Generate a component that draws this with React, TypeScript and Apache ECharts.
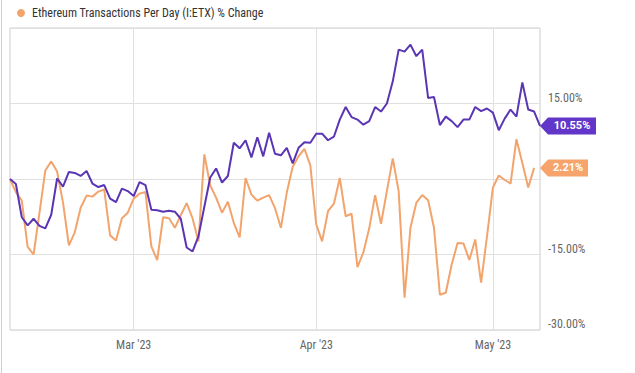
import React, { useEffect, useRef } from "react";
import * as echarts from "echarts";

const startDate = [2023, 1, 8]; // Feb 8, 2023 (month is 0-based)
const dayCount = 91;

const monthLabels: Record<string, string> = {
  "2023-03-01": "Mar '23",
  "2023-04-01": "Apr '23",
  "2023-05-01": "May '23",
};

const yTickValues = [-30, -15, 0, 15, 30];
const hiddenYTicks = [0, 30];

const priceName = "Ethereum Price % Change";
const txName = "Ethereum Transactions Per Day (I:ETX) % Change";

const priceValues = [
  0, -1.0, -7.6, -9.2, -7.9, -9.3, -9.8, -7.1, 0.1, -1.5,
  1.4, 1.2, 0.6, 1.6, -0.9, -1.6, -1.2, -3.9, -4.6, -1.9,
  -2.4, -3.4, -0.6, -1.2, -6.1, -6.2, -6.5, -6.3, -6.5, -7.9,
  -13.6, -14.4, -11.4, -5.5, 0.3, 2.1, -0.7, 0.6, 7.2, 6.1,
  7.7, 4.3, 8.3, 4.5, 9.2, 5.0, 4.7, 6.2, 3.1, 6.2,
  7.3, 7.2, 9.0, 9.0, 7.7, 8.4, 11.8, 14.3, 12.3, 11.8,
  10.8, 11.5, 14.3, 13.4, 15.0, 19.4, 25.7, 25.3, 26.7, 24.4,
  25.7, 16.1, 16.3, 10.7, 12.4, 11.5, 10.3, 11.8, 11.8, 14.3,
  13.5, 14.0, 13.2, 9.7, 12.0, 13.8, 12.4, 19.2, 13.8, 13.4,
  10.55,
];

const txValues: (number | null)[] = [
  0, -2.6, -4.3, -13.5, -15.0, -6.8, 1.7, 3.5, 1.5, -4.7,
  -13.2, -10.6, -5.7, -3.3, -3.5, -2.5, -2.1, -11.2, -12.2, -7.8,
  -6.7, -3.9, -2.9, -2.6, -13.4, -16.1, -7.6, -7.8, -9.7, -7.2,
  -4.8, -7.8, -12.4, 4.9, -1.3, -3.7, -6.7, -4.5, -8.7, -11.6,
  0.2, -3.1, -4.3, -3.7, -3.2, -5.8, -9.7, -2.7, 2.4, 4.5,
  6.0, 2.7, -9.0, -12.4, -6.4, -4.9, 0.2, -7.4, -6.9, -17.5,
  -14.6, -9.8, -3.2, -8.9, -2.4, 4.1, -2.4, -23.6, -9.7, -4.7,
  -3.2, -4.2, -9.7, -23.0, -22.6, -17.0, -12.7, -12.8, -16.1, -12.0,
  -20.6, -11.4, -1.7, 0.7, -0.2, -0.9, 7.9, 3.2, -1.7, 2.21,
  null,
];

const purple = "#5a36b4";
const purpleTag = "#6236c9";
const orange = "#f2a46c";
const orangeTag = "#f6a46c";

function buildDates(): string[] {
  const out: string[] = [];
  const base = Date.UTC(startDate[0], startDate[1], startDate[2]);
  for (let i = 0; i < dayCount; i++) {
    out.push(new Date(base + i * 86400000).toISOString().slice(0, 10));
  }
  return out;
}

const fontFamily = "'Liberation Sans Narrow', 'Roboto Condensed', Roboto, sans-serif";

export default function App() {
  const ref = useRef<HTMLDivElement>(null);

  useEffect(() => {
    if (!ref.current) return;
    const chart = echarts.init(ref.current, undefined, { renderer: "svg" });
    const dates = buildDates();
    const lastDate = dates[dates.length - 1];
    const lastPrice = priceValues[priceValues.length - 1];
    let lastTx = 0;
    for (let i = txValues.length - 1; i >= 0; i--) {
      if (txValues[i] != null) {
        lastTx = txValues[i] as number;
        break;
      }
    }
    const isMonth = (_i: number, v: string) => v in monthLabels;

    const tag = (w: number, color: string, value: number) => ({
      symbol: `path://M0,8.5L8,0L${w},0L${w},17L8,17Z`,
      symbolSize: [w, 17],
      symbolOffset: [w / 2, 0],
      silent: true,
      itemStyle: { color },
      label: {
        show: true,
        position: "inside",
        offset: [4, 0],
        color: "#fff",
        fontWeight: "bold",
        fontSize: 11,
        fontFamily: "Roboto, sans-serif",
        formatter: () => value.toFixed(2) + "%",
      },
      data: [{ coord: [lastDate, value], value }],
    });

    chart.setOption({
      animation: false,
      textStyle: { fontFamily },
      legend: {
        data: [{ name: txName, icon: "circle" }],
        left: 12,
        top: 2,
        itemWidth: 8,
        itemHeight: 8,
        textStyle: { fontSize: 12, color: "#333", fontFamily, padding: [0, 0, 0, 2] },
      },
      grid: {
        left: 10,
        right: 95,
        top: 28,
        bottom: 43,
        show: true,
        borderColor: "#cccccc",
        borderWidth: 1,
        backgroundColor: "transparent",
      },
      xAxis: {
        type: "category",
        data: dates,
        boundaryGap: false,
        axisLine: { show: false },
        axisTick: { show: false },
        axisLabel: {
          interval: isMonth,
          formatter: (v: string) => monthLabels[v] || "",
          color: "#666",
          fontSize: 12,
          margin: 9,
        },
        splitLine: { show: true, interval: isMonth, lineStyle: { color: "#e0e0e0", width: 1 } },
      },
      yAxis: {
        type: "value",
        position: "right",
        min: yTickValues[0],
        max: yTickValues[yTickValues.length - 1],
        interval: 15,
        axisLine: { show: false },
        axisTick: { show: false },
        axisLabel: {
          formatter: (v: number) => (hiddenYTicks.includes(v) ? "" : v.toFixed(2) + "%"),
          color: "#666",
          fontSize: 12,
          margin: 8,
          verticalAlign: "bottom",
        },
        splitLine: { show: true, lineStyle: { color: "#e0e0e0", width: 1 } },
      },
      graphic: [
        { type: "line", shape: { x1: 1.5, y1: 0, x2: 1.5, y2: 373 }, style: { stroke: "#d0d0d0", lineWidth: 1 }, silent: true },
      ],
      series: [
        {
          name: txName,
          type: "line",
          data: txValues,
          showSymbol: false,
          symbol: "none",
          clip: false,
          lineStyle: { color: orange, width: 2 },
          itemStyle: { color: orange },
          z: 2,
          markPoint: tag(48, orangeTag, lastTx),
        },
        {
          name: priceName,
          type: "line",
          data: priceValues,
          showSymbol: false,
          symbol: "none",
          clip: false,
          lineStyle: { color: purple, width: 2 },
          itemStyle: { color: purple },
          z: 3,
          markPoint: tag(56, purpleTag, lastPrice),
        },
      ],
    });
    return () => chart.dispose();
  }, []);

  return (
    <div
      ref={ref}
      style={{ position: "fixed", left: 0, top: 0, width: 635, height: 373, background: "#fff" }}
    />
  );
}
